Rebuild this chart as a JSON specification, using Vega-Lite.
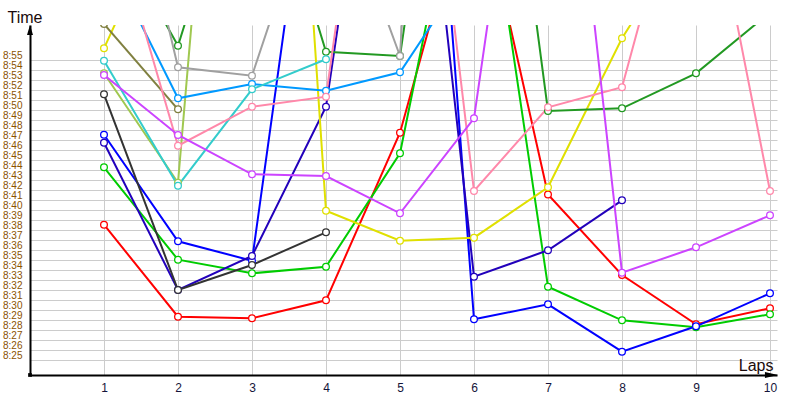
{
  "$schema": "https://vega.github.io/schema/vega-lite/v6.json",
  "width": 747,
  "height": 350,
  "autosize": {"type": "none"},
  "padding": {"left": 30, "top": 25, "right": 23, "bottom": 25},
  "background": "white",
  "config": {
    "view": {"stroke": null},
    "axisX": {"domainColor": "black", "domainWidth": 2, "ticks": false, "gridColor": "#cccccc", "gridWidth": 1, "labelFont": "Liberation Sans", "labelFontSize": 12, "labelColor": "#14143a", "labelPadding": 7, "labelOverlap": false, "titleFont": "Liberation Sans", "titleFontSize": 16, "titleFontWeight": "normal", "titleColor": "#1a0a0a", "titleAngle": 0, "titleAlign": "right", "titleBaseline": "alphabetic", "titleX": 743, "titleY": -5},
    "axisY": {"domainColor": "black", "domainWidth": 2, "ticks": false, "gridColor": "#cccccc", "gridWidth": 1, "labelFont": "Liberation Sans", "labelFontSize": 10, "labelColor": "#8a5200", "labelPadding": 8, "labelBaseline": "alphabetic", "labelOffset": -1.5, "labelOverlap": false, "tickCount": 40, "titleFont": "Liberation Sans", "titleFontSize": 16, "titleFontWeight": "normal", "titleColor": "#1a0a0a", "titleAngle": 0, "titleAlign": "left", "titleBaseline": "alphabetic", "titleX": -23, "titleY": -3}
  },
  "data": {"values": [
    {"d": "Red", "lap": 1, "t": 38.53}, {"d": "Red", "lap": 2, "t": 29.33}, {"d": "Red", "lap": 3, "t": 29.17}, {"d": "Red", "lap": 4, "t": 30.97}, {"d": "Red", "lap": 5, "t": 47.73}, {"d": "Red", "lap": 6, "t": 74.5}, {"d": "Red", "lap": 7, "t": 41.55}, {"d": "Red", "lap": 8, "t": 33.5}, {"d": "Red", "lap": 9, "t": 28.57}, {"d": "Red", "lap": 10, "t": 30.17},
    {"d": "Green", "lap": 1, "t": 44.27}, {"d": "Green", "lap": 2, "t": 35.03}, {"d": "Green", "lap": 3, "t": 33.67}, {"d": "Green", "lap": 4, "t": 34.33}, {"d": "Green", "lap": 5, "t": 45.67}, {"d": "Green", "lap": 6, "t": 82}, {"d": "Green", "lap": 7, "t": 32.33}, {"d": "Green", "lap": 8, "t": 28.97}, {"d": "Green", "lap": 9, "t": 28.27}, {"d": "Green", "lap": 10, "t": 29.57},
    {"d": "Blue", "lap": 1, "t": 47.53}, {"d": "Blue", "lap": 2, "t": 36.87}, {"d": "Blue", "lap": 3, "t": 34.93}, {"d": "Blue", "lap": 4, "t": 88.3}, {"d": "Blue", "lap": 5, "t": 126.7}, {"d": "Blue", "lap": 6, "t": 29.07}, {"d": "Blue", "lap": 7, "t": 30.57}, {"d": "Blue", "lap": 8, "t": 25.83}, {"d": "Blue", "lap": 9, "t": 28.37}, {"d": "Blue", "lap": 10, "t": 31.67},
    {"d": "Navy", "lap": 1, "t": 46.73}, {"d": "Navy", "lap": 2, "t": 32.0}, {"d": "Navy", "lap": 3, "t": 35.4}, {"d": "Navy", "lap": 4, "t": 50.33}, {"d": "Navy", "lap": 5, "t": 100.5}, {"d": "Navy", "lap": 6, "t": 33.33}, {"d": "Navy", "lap": 7, "t": 35.97}, {"d": "Navy", "lap": 8, "t": 40.97},
    {"d": "Black", "lap": 1, "t": 51.57}, {"d": "Black", "lap": 2, "t": 32.0}, {"d": "Black", "lap": 3, "t": 34.5}, {"d": "Black", "lap": 4, "t": 37.77},
    {"d": "Yellow", "lap": 1, "t": 56.17}, {"d": "Yellow", "lap": 2, "t": 72.3}, {"d": "Yellow", "lap": 3, "t": 150.6}, {"d": "Yellow", "lap": 4, "t": 39.93}, {"d": "Yellow", "lap": 5, "t": 36.93}, {"d": "Yellow", "lap": 6, "t": 37.23}, {"d": "Yellow", "lap": 7, "t": 42.27}, {"d": "Yellow", "lap": 8, "t": 57.17}, {"d": "Yellow", "lap": 9, "t": 68.9},
    {"d": "Olive", "lap": 1, "t": 58.6}, {"d": "Olive", "lap": 2, "t": 50.07},
    {"d": "YellowGreen", "lap": 1, "t": 53.67}, {"d": "YellowGreen", "lap": 2, "t": 42.73}, {"d": "YellowGreen", "lap": 3, "t": 129.8},
    {"d": "DarkGreen", "lap": 1, "t": 69.6}, {"d": "DarkGreen", "lap": 2, "t": 56.43}, {"d": "DarkGreen", "lap": 3, "t": 80}, {"d": "DarkGreen", "lap": 4, "t": 55.83}, {"d": "DarkGreen", "lap": 5, "t": 55.4}, {"d": "DarkGreen", "lap": 6, "t": 106}, {"d": "DarkGreen", "lap": 7, "t": 49.9}, {"d": "DarkGreen", "lap": 8, "t": 50.17}, {"d": "DarkGreen", "lap": 9, "t": 53.67}, {"d": "DarkGreen", "lap": 10, "t": 59.76},
    {"d": "Gray", "lap": 1, "t": 85.57}, {"d": "Gray", "lap": 2, "t": 54.27}, {"d": "Gray", "lap": 3, "t": 53.43}, {"d": "Gray", "lap": 4, "t": 75.6}, {"d": "Gray", "lap": 5, "t": 55.4}, {"d": "Gray", "lap": 6, "t": 180},
    {"d": "LightBlue", "lap": 1, "t": 66}, {"d": "LightBlue", "lap": 2, "t": 51.17}, {"d": "LightBlue", "lap": 3, "t": 52.6}, {"d": "LightBlue", "lap": 4, "t": 51.93}, {"d": "LightBlue", "lap": 5, "t": 53.77}, {"d": "LightBlue", "lap": 6, "t": 64.9},
    {"d": "Teal", "lap": 1, "t": 54.93}, {"d": "Teal", "lap": 2, "t": 42.43}, {"d": "Teal", "lap": 3, "t": 52.07}, {"d": "Teal", "lap": 4, "t": 55.07},
    {"d": "Pink", "lap": 1, "t": 71.95}, {"d": "Pink", "lap": 2, "t": 46.43}, {"d": "Pink", "lap": 3, "t": 50.33}, {"d": "Pink", "lap": 4, "t": 51.33}, {"d": "Pink", "lap": 5, "t": 104}, {"d": "Pink", "lap": 6, "t": 41.9}, {"d": "Pink", "lap": 7, "t": 50.27}, {"d": "Pink", "lap": 8, "t": 52.27}, {"d": "Pink", "lap": 9, "t": 79.5}, {"d": "Pink", "lap": 10, "t": 41.9},
    {"d": "Purple", "lap": 1, "t": 53.5}, {"d": "Purple", "lap": 2, "t": 47.5}, {"d": "Purple", "lap": 3, "t": 43.57}, {"d": "Purple", "lap": 4, "t": 43.4}, {"d": "Purple", "lap": 5, "t": 39.67}, {"d": "Purple", "lap": 6, "t": 49.17}, {"d": "Purple", "lap": 7, "t": 100.5}, {"d": "Purple", "lap": 8, "t": 33.73}, {"d": "Purple", "lap": 9, "t": 36.27}, {"d": "Purple", "lap": 10, "t": 39.47}
  ]},
  "layer": [
    {
      "mark": {"type": "line", "strokeWidth": 2, "clip": true},
      "encoding": {
        "x": {"field": "lap", "type": "quantitative", "title": "Laps", "scale": {"domain": [0, 10.0946], "nice": false, "zero": false}, "axis": {"values": [1, 2, 3, 4, 5, 6, 7, 8, 9, 10], "format": "d", "grid": true}},
        "y": {"field": "t", "type": "quantitative", "title": "Time", "scale": {"domain": [23.5, 58.5], "nice": false, "zero": false}, "axis": {"values": [25, 26, 27, 28, 29, 30, 31, 32, 33, 34, 35, 36, 37, 38, 39, 40, 41, 42, 43, 44, 45, 46, 47, 48, 49, 50, 51, 52, 53, 54, 55], "tickCount": 40, "labelExpr": "'8:' + datum.value", "grid": true}},
        "color": {"field": "d", "type": "nominal", "legend": null, "scale": {"domain": ["Red", "Green", "Blue", "Navy", "Black", "Yellow", "Olive", "YellowGreen", "DarkGreen", "Gray", "LightBlue", "Teal", "Pink", "Purple"], "range": ["#ff0000", "#00cc00", "#0000ff", "#2200bb", "#333333", "#e0e000", "#808040", "#a0c850", "#229922", "#a0a0a0", "#0099ff", "#33cccc", "#ff88aa", "#cc44ff"]}}
      }
    },
    {
      "mark": {"type": "point", "shape": "circle", "filled": true, "fill": "white", "size": 45, "strokeWidth": 1.3, "opacity": 1, "clip": true},
      "encoding": {
        "x": {"field": "lap", "type": "quantitative", "title": "Laps"},
        "y": {"field": "t", "type": "quantitative", "title": "Time"},
        "stroke": {"field": "d", "type": "nominal", "legend": null, "scale": {"domain": ["Red", "Green", "Blue", "Navy", "Black", "Yellow", "Olive", "YellowGreen", "DarkGreen", "Gray", "LightBlue", "Teal", "Pink", "Purple"], "range": ["#ff0000", "#00cc00", "#0000ff", "#2200bb", "#333333", "#e0e000", "#808040", "#a0c850", "#229922", "#a0a0a0", "#0099ff", "#33cccc", "#ff88aa", "#cc44ff"]}}
      }
    },
    {
      "data": {"values": [{}]},
      "mark": {"type": "point", "shape": "M0,-2L-0.6,0L0.6,0Z", "filled": true, "color": "black", "size": 100, "opacity": 1},
      "encoding": {
        "x": {"datum": 0, "type": "quantitative", "title": "Laps"},
        "y": {"datum": 57.5, "type": "quantitative", "title": "Time"}
      }
    },
    {
      "data": {"values": [{}]},
      "mark": {"type": "point", "shape": "M2.6,0L0,-0.6L0,0.6Z", "filled": true, "color": "black", "size": 100, "opacity": 1},
      "encoding": {
        "x": {"datum": 9.932, "type": "quantitative", "title": "Laps"},
        "y": {"datum": 23.5, "type": "quantitative", "title": "Time"}
      }
    },
    {
      "data": {"values": [{}]},
      "mark": {"type": "point", "shape": "square", "filled": true, "color": "black", "size": 14, "opacity": 1},
      "encoding": {
        "x": {"datum": 0, "type": "quantitative", "title": "Laps"},
        "y": {"datum": 23.5, "type": "quantitative", "title": "Time"}
      }
    }
  ]
}
